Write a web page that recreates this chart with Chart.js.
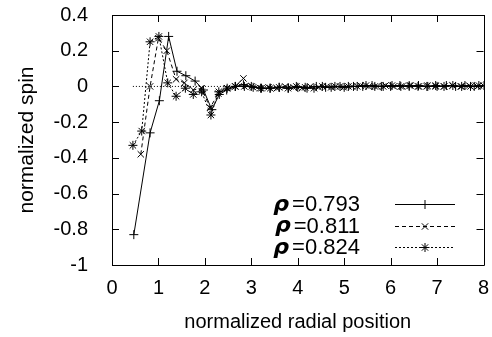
<!DOCTYPE html>
<html>
<head>
<meta charset="utf-8">
<script src="https://cdn.jsdelivr.net/npm/chart.js@4.4.1/dist/chart.umd.min.js"></script>
<style>
  html, body { margin: 0; padding: 0; background: #fff; }
  #wrap { width: 492px; height: 337px; }
</style>
</head>
<body>
<div id="wrap"><canvas id="spinChart" width="492" height="337"></canvas></div>
<script>
// Data
const xTickValues = [0, 1, 2, 3, 4, 5, 6, 7, 8];
const xTickLabels = ['0', '1', '2', '3', '4', '5', '6', '7', '8'];
const yTickValues = [0.4, 0.2, 0, -0.2, -0.4, -0.6, -0.8, -1];
const yTickLabels = ['0.4', '0.2', '0', '-0.2', '-0.4', '-0.6', '-0.8', '-1'];

const seriesNames = ['0.793', '0.811', '0.824'];

// rho = 0.793 (solid, +)
const s1x = [0.47,0.82,1.02,1.22,1.40,1.59,1.79,1.97,2.15,2.31,2.47,2.65,2.83,3.0,3.2,3.4,3.6,3.8,4.0,4.2,4.4,4.6,4.8,5.0,5.2,5.4,5.6,5.8,6.0,6.2,6.4,6.6,6.8,7.0,7.2,7.4,7.6,7.8,8.0];
const s1y = [-0.83,-0.26,-0.08,0.28,0.085,0.06,0.03,-0.02,-0.13,-0.045,-0.02,0.0,0.01,0.0,-0.01,-0.01,-0.005,-0.01,-0.005,-0.01,0.0,-0.005,0.0,-0.005,0.0,0.0,0.005,0.0,0.0,0.005,0.0,0.005,0.0,0.0,0.005,0.0,0.005,0.0,0.005];

// rho = 0.811 (dashed, x)
const s2x = [0.62,0.82,1.0,1.18,1.38,1.56,1.75,1.93,2.11,2.29,2.47,2.65,2.83,3.01,3.19,3.37,3.55,3.73,3.91,4.09,4.27,4.45,4.63,4.81,4.99,5.17,5.35,5.53,5.71,5.89,6.07,6.25,6.43,6.61,6.79,6.97,7.15,7.33,7.51,7.69,7.87,8.0];
const s2y = [-0.38,0.0,0.27,0.2,0.04,0.02,-0.02,-0.01,-0.12,-0.04,-0.01,0.0,0.045,0.0,-0.01,-0.005,-0.01,0.0,-0.005,-0.01,0.0,-0.005,0.0,0.0,-0.005,0.0,0.005,0.0,0.0,0.005,0.0,0.0,0.005,0.0,0.005,0.0,0.0,0.005,0.0,0.005,0.0,0.005];

// rho = 0.824 (dotted, asterisk)
const s3x = [0.45,0.64,0.82,1.01,1.2,1.38,1.58,1.75,1.93,2.13,2.3,2.48,2.66,2.85,3.04,3.22,3.41,3.6,3.79,3.97,4.16,4.35,4.53,4.72,4.91,5.09,5.28,5.47,5.66,5.84,6.03,6.22,6.4,6.59,6.78,6.97,7.15,7.34,7.53,7.72,7.9];
const s3y = [-0.33,-0.25,0.25,0.28,0.02,-0.055,-0.01,-0.045,-0.03,-0.16,-0.03,-0.01,0.0,0.0,-0.005,-0.01,-0.01,-0.005,-0.01,0.0,-0.005,-0.01,0.0,-0.005,0.0,0.0,0.0,0.005,0.0,0.0,0.005,0.0,0.005,0.0,0.0,0.005,0.0,0.005,0.0,0.0,0.005];

// dotted zero reference
const zeroX = [0.45, 8];
const zeroY = [0, 0];

const FONT = '"Liberation Sans", Arial, Helvetica, sans-serif';

function pairs(xs, ys) {
    const n = Math.min(xs.length, ys.length);
    const out = [];
    for (let i = 0; i < n; i++) out.push({ x: xs[i], y: ys[i] });
    return out;
}

const seriesStyles = [
    { dash: [], point: 'cross' },
    { dash: [4, 3], point: 'crossRot' },
    { dash: [2, 2], point: 'star' }
];

// Frame with inward ticks, gnuplot style
const framePlugin = {
    id: 'frame',
    afterDraw(chart) {
        const { ctx, chartArea: a, scales } = chart;
        const len = 7;
        ctx.save();
        ctx.strokeStyle = '#000';
        ctx.lineWidth = 1;
        ctx.beginPath();
        ctx.rect(Math.round(a.left) + 0.5, Math.round(a.top) + 0.5,
                 Math.round(a.right - a.left), Math.round(a.bottom - a.top));
        xTickValues.forEach(v => {
            const px = Math.round(scales.x.getPixelForValue(v)) + 0.5;
            ctx.moveTo(px, a.bottom); ctx.lineTo(px, a.bottom - len);
            ctx.moveTo(px, a.top); ctx.lineTo(px, a.top + len);
        });
        yTickValues.forEach(v => {
            const py = Math.round(scales.y.getPixelForValue(v)) + 0.5;
            ctx.moveTo(a.left, py); ctx.lineTo(a.left + len, py);
            ctx.moveTo(a.right, py); ctx.lineTo(a.right - len, py);
        });
        ctx.stroke();
        ctx.restore();
    }
};

// Key inside the lower right of the plot
const keyPlugin = {
    id: 'key',
    afterDraw(chart) {
        const { ctx } = chart;
        const rows = [204, 225.5, 247];
        const textRight = 360;
        ctx.save();
        ctx.fillStyle = '#000';
        ctx.textBaseline = 'middle';
        seriesNames.forEach((name, i) => {
            const y = rows[i];
            ctx.font = '22px ' + FONT;
            ctx.textAlign = 'right';
            const rest = '=' + name;
            ctx.fillText(rest, textRight, y + 1);
            const w = ctx.measureText(rest).width;
            ctx.font = 'italic bold 22px "DejaVu Sans", sans-serif';
            ctx.fillText('\u03C1', textRight - w - 3, y + 1);

            const st = seriesStyles[i];
            ctx.strokeStyle = '#000';
            ctx.lineWidth = 1;
            ctx.setLineDash(st.dash);
            ctx.beginPath();
            ctx.moveTo(395, Math.round(y) + 0.5);
            ctx.lineTo(455, Math.round(y) + 0.5);
            ctx.stroke();
            ctx.setLineDash([]);
            Chart.helpers.drawPoint(ctx, {
                pointStyle: st.point, radius: 4.5, borderWidth: 1, rotation: 0
            }, 425, Math.round(y) + 0.5);
        });
        ctx.restore();
    }
};

const ctx = document.getElementById('spinChart').getContext('2d');

const datasets = [{
    data: pairs(zeroX, zeroY),
    borderColor: '#000',
    borderWidth: 1,
    borderDash: [1, 2],
    pointRadius: 0,
    fill: false
}];
[[s1x, s1y], [s2x, s2y], [s3x, s3y]].forEach((s, i) => {
    datasets.push({
        label: '\u03C1=' + seriesNames[i],
        data: pairs(s[0], s[1]),
        borderColor: '#000',
        backgroundColor: '#000',
        borderWidth: 1,
        borderDash: seriesStyles[i].dash,
        pointStyle: seriesStyles[i].point,
        pointRadius: 4.5,
        pointBorderWidth: 1,
        pointBorderColor: '#000',
        tension: 0,
        fill: false
    });
});

const spinChart = new Chart(ctx, {
    type: 'scatter',
    data: { datasets: datasets },
    options: {
        responsive: false,
        animation: false,
        showLine: true,
        layout: { padding: { top: 15, right: 8.5, left: 0, bottom: 0 } },
        plugins: {
            legend: { display: false },
            tooltip: { enabled: false }
        },
        scales: {
            x: {
                type: 'linear',
                min: 0,
                max: 8,
                grid: { display: false, drawTicks: false },
                border: { display: false },
                afterBuildTicks: scale => {
                    scale.ticks = xTickValues.map(v => ({ value: v }));
                },
                afterFit: scale => {
                    scale.height = 72;
                    scale.paddingLeft = 0;
                    scale.paddingRight = 0;
                },
                ticks: {
                    color: '#000',
                    padding: 11,
                    maxRotation: 0,
                    font: { size: 20, family: FONT },
                    callback: (v, i) => xTickLabels[i]
                },
                title: {
                    display: true,
                    text: 'normalized radial position',
                    color: '#000',
                    font: { size: 20, family: FONT },
                    padding: { top: 0, bottom: 3 }
                }
            },
            y: {
                type: 'linear',
                min: -1,
                max: 0.4,
                grid: { display: false, drawTicks: false },
                border: { display: false },
                afterBuildTicks: scale => {
                    scale.ticks = yTickValues.map(v => ({ value: v }));
                },
                afterFit: scale => {
                    scale.width = 112;
                    scale.paddingTop = 0;
                    scale.paddingBottom = 0;
                },
                ticks: {
                    color: '#000',
                    padding: 24,
                    font: { size: 20, family: FONT },
                    callback: (v, i) => yTickLabels[i]
                },
                title: {
                    display: true,
                    text: 'normalized spin',
                    color: '#000',
                    font: { size: 21, family: FONT },
                    padding: { top: 15, bottom: 0 }
                }
            }
        }
    },
    plugins: [framePlugin, keyPlugin]
});
</script>
</body>
</html>
